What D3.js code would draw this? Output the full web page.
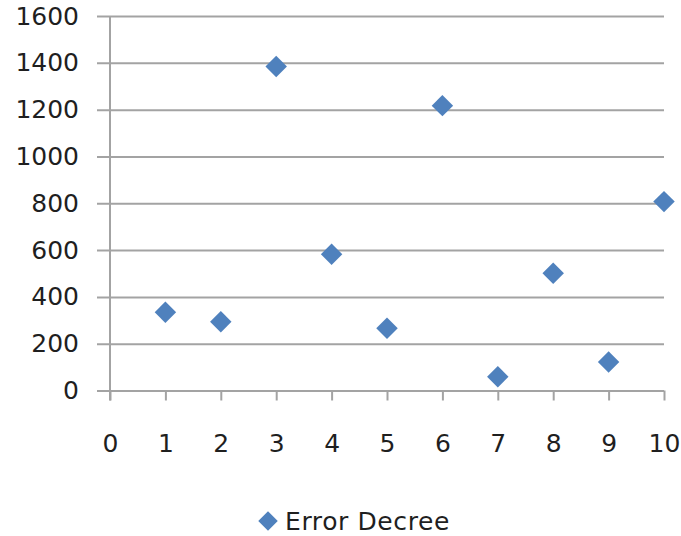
<!DOCTYPE html>
<html>
<head>
<meta charset="utf-8">
<script src="https://cdn.jsdelivr.net/npm/d3@7"></script>
<style>
  html, body { margin: 0; padding: 0; background: #fff; }
  svg { display: block; }
</style>
</head>
<body>
<svg id="chart" width="681" height="536"></svg>
<script>
// Error Decree series
const xValues = [1, 2, 3, 4, 5, 6, 7, 8, 9, 10];
const errorDecree = [334, 294, 1384, 582, 266, 1217, 59, 501, 122, 807];
const yTicks = [0, 200, 400, 600, 800, 1000, 1200, 1400, 1600];
const xTicks = [0, 1, 2, 3, 4, 5, 6, 7, 8, 9, 10];
const seriesName = "Error Decree";

(function () {
  const svg = d3.select("#chart");
  const plotLeft = 110, plotRight = 664, plotTop = 16, plotBottom = 390.5;
  const gridColor = "#a3a3a3";
  const markColor = "#4f81bd";
  const textColor = "#1f1f1f";
  const font = "DejaVu Sans, Verdana, sans-serif";

  const x = d3.scaleLinear().domain([0, 10]).range([plotLeft, plotRight]);
  const y = d3.scaleLinear().domain([0, 1600]).range([plotBottom, plotTop]);

  // horizontal gridlines with outside tick stubs and labels
  const yAxis = d3.axisLeft(y).tickValues(yTicks).tickFormat(d3.format("d"))
    .tickSize(-(plotRight - plotLeft)).tickPadding(31);
  const gy = svg.append("g").attr("transform", `translate(${plotLeft},0)`).call(yAxis);
  gy.select(".domain").remove();
  gy.selectAll(".tick line")
    .attr("x1", -13)
    .attr("stroke", gridColor).attr("stroke-width", 2);
  gy.selectAll(".tick text")
    .attr("x", -31)
    .attr("font-family", font).attr("font-size", 25).attr("fill", textColor);

  // vertical axis line
  svg.append("line")
    .attr("x1", plotLeft).attr("x2", plotLeft)
    .attr("y1", plotTop).attr("y2", plotBottom + 10)
    .attr("stroke", gridColor).attr("stroke-width", 2);

  // x axis ticks and labels
  const xAxis = d3.axisBottom(x).tickValues(xTicks).tickFormat(d3.format("d"))
    .tickSize(10).tickPadding(34);
  const gx = svg.append("g").attr("transform", `translate(0,${plotBottom})`).call(xAxis);
  gx.select(".domain").remove();
  gx.selectAll(".tick line").attr("stroke", gridColor).attr("stroke-width", 2);
  gx.selectAll(".tick text")
    .attr("font-family", font).attr("font-size", 25).attr("fill", textColor);

  // diamond markers
  const diamond = d3.symbol().type(d3.symbolSquare).size(230);
  svg.append("g").selectAll("path")
    .data(xValues.map((v, i) => ({ x: v, y: errorDecree[i] })))
    .join("path")
    .attr("d", diamond)
    .attr("transform", d => `translate(${x(d.x)},${y(d.y)}) rotate(45)`)
    .attr("fill", markColor);

  // legend
  const legend = svg.append("g").attr("transform", "translate(268,521)");
  legend.append("path")
    .attr("d", d3.symbol().type(d3.symbolSquare).size(190))
    .attr("transform", "rotate(45)")
    .attr("fill", markColor);
  legend.append("text")
    .attr("x", 17).attr("y", 9)
    .attr("font-family", font).attr("font-size", 25)
    .attr("letter-spacing", 0.6).attr("fill", textColor)
    .text(seriesName);
})();
</script>
</body>
</html>
